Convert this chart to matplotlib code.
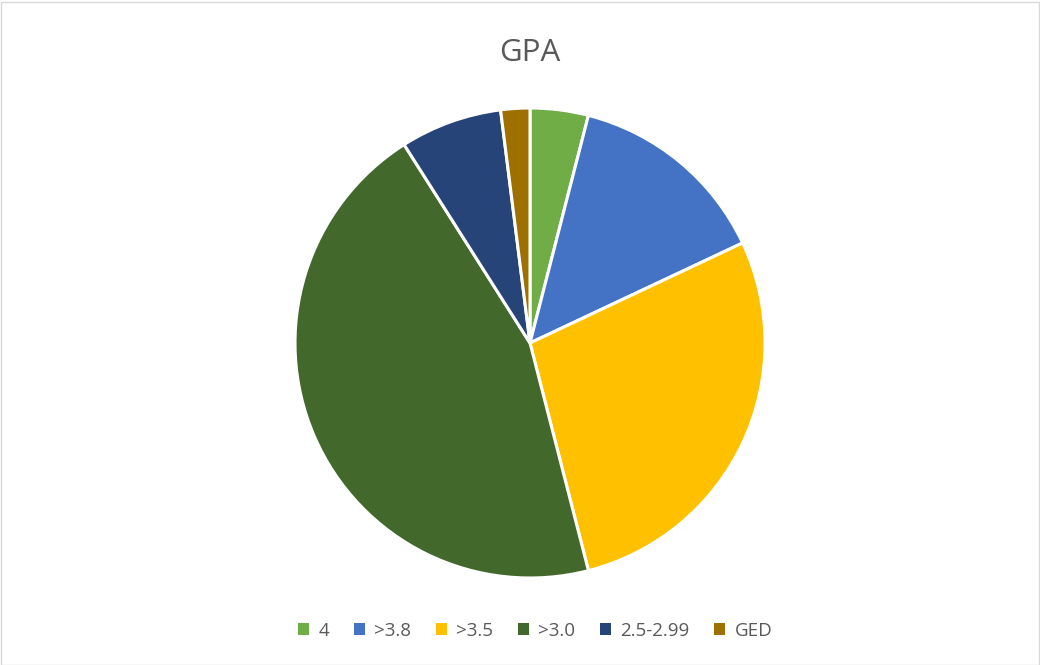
import matplotlib
matplotlib.use("Agg")
import matplotlib.pyplot as plt
from matplotlib.patches import Rectangle, Patch

labels = ["4", ">3.8", ">3.5", ">3.0", "2.5-2.99", "GED"]
values = [4, 14, 28, 45, 7, 2]
colors = ["#70AD47", "#4472C4", "#FFC000", "#43682B", "#264478", "#9E7000"]

plt.rcParams['font.family'] = ['Open Sans', 'DejaVu Sans']

W, H = 1040, 665
fig = plt.figure(figsize=(W / 100, H / 100), dpi=100)
fig.patch.set_facecolor("white")
fig.add_artist(Rectangle((0.5 / W, 0.5 / H), 1 - 2 / W, 1 - 2 / H, transform=fig.transFigure,
                         fill=False, edgecolor="#D9D9D9", linewidth=1))

cx, cy, r = 530, 343, 235
ax = fig.add_axes([(cx - r) / W, (H - cy - r) / H, 2 * r / W, 2 * r / H])
ax.pie(values, colors=colors, startangle=90, counterclock=False, radius=1,
       wedgeprops=dict(edgecolor="white", linewidth=2.2))
ax.set_xlim(-1.0, 1.0)
ax.set_ylim(-1.0, 1.0)
ax.set_aspect("equal")
ax.axis("off")

fig.text(530 / W, 1 - 53 / H, "GPA", ha="center", va="center", fontsize=22.5, color="#595959")

handles = [Patch(facecolor=c, edgecolor="none") for c in colors]
fig.legend(handles, labels, loc="center", bbox_to_anchor=(535 / W, 1 - 631 / H), ncol=6,
           frameon=False, fontsize=13.5, labelcolor="#595959", handlelength=0.6, handleheight=0.6,
           handletextpad=0.5, columnspacing=1.3)

fig.savefig("out.png", dpi=100)
